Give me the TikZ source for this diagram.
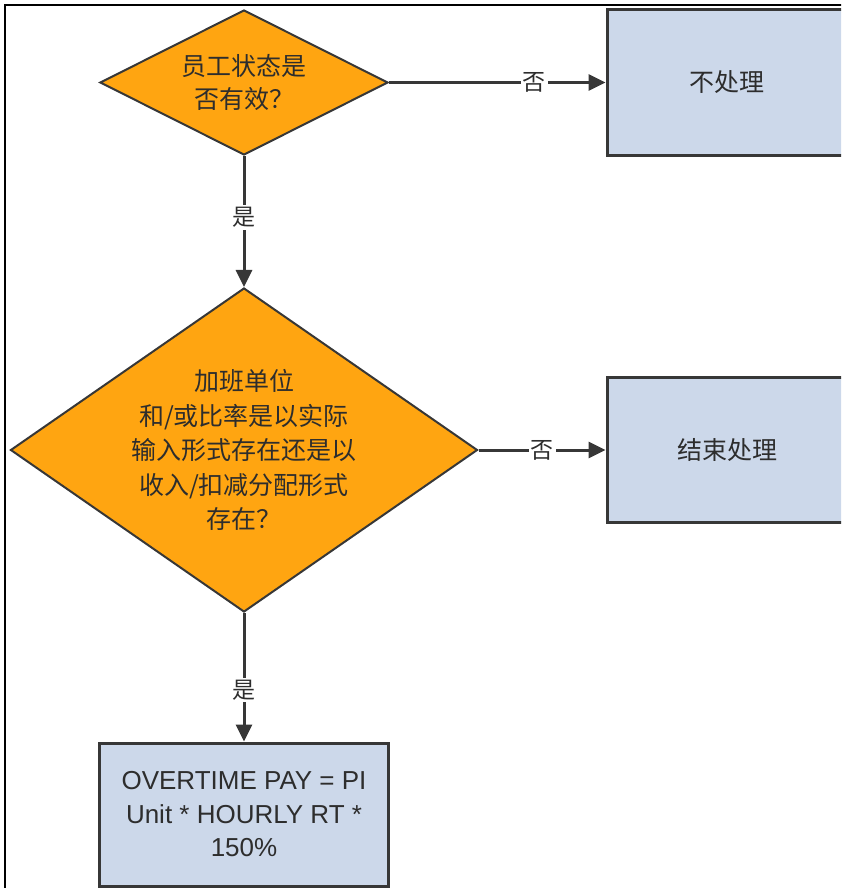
\documentclass[tikz,border=0pt]{standalone}
\usepackage{fontspec}
\setmainfont{Liberation Sans}
\newfontfamily\cjk{Noto Sans CJK SC}
\usetikzlibrary{shapes.geometric,arrows.meta,positioning}
\definecolor{decc}{RGB}{255,165,17}
\definecolor{boxc}{RGB}{204,216,234}
\definecolor{linec}{RGB}{55,55,55}
\definecolor{txtc}{RGB}{45,45,45}

\begin{document}
\begin{tikzpicture}[>={Triangle[length=17pt,width=16pt]},
    decision/.style={diamond, draw=linec, line width=2pt, fill=decc, inner sep=0pt, aspect=2, align=center, text=txtc, font=\cjk\fontsize{25}{33}\selectfont},
    block/.style={rectangle, draw=linec, line width=3pt, fill=boxc, minimum width=240pt, minimum height=145pt, align=center, text=txtc, font=\cjk\fontsize{25}{34}\selectfont},
    lbl/.style={fill=white, inner sep=2pt, text=txtc, font=\cjk\fontsize{23}{26}\selectfont},
    link/.style={->, draw=linec, line width=3pt}]

    \useasboundingbox (0,0) rectangle (841pt,-888pt);
    \clip (0,0) rectangle (841pt,-888pt);
    \draw[line width=2.5pt] (5pt,-5pt) rectangle (900pt,-950pt);

    \node[decision, minimum width=288pt, minimum height=145pt] (valid) at (244pt,-82.5pt) {员工状态是\\否有效？};
    \node[decision, below of=valid, node distance=367.5pt, minimum width=467pt, minimum height=324pt, aspect=1.44, font=\cjk\fontsize{25}{34.5}\selectfont] (source) {加班单位\\和/或比率是以实际\\输入形式存在还是以\\收入/扣减分配形式\\存在？};
    \node[block, below of=source, node distance=364.5pt, minimum width=289pt, minimum height=143pt, font=\fontsize{26}{33.5}\selectfont] (calc) {OVERTIME PAY = PI\\Unit * HOURLY RT *\\150\%};
    \node[block, right of=valid, node distance=483pt] (skip) {不处理};
    \node[block, right of=source, node distance=483pt] (stop) {结束处理};

    \draw[link] (valid) -- node[lbl, pos=0.47] {是} (source);
    \draw[link] (valid) -- node[lbl, pos=0.67] {否} (skip);
    \draw[link] (source) -- node[lbl, pos=0.6] {是} (calc);
    \draw[link] (source) -- node[lbl, pos=0.5] {否} (stop);

\end{tikzpicture}
\end{document}
